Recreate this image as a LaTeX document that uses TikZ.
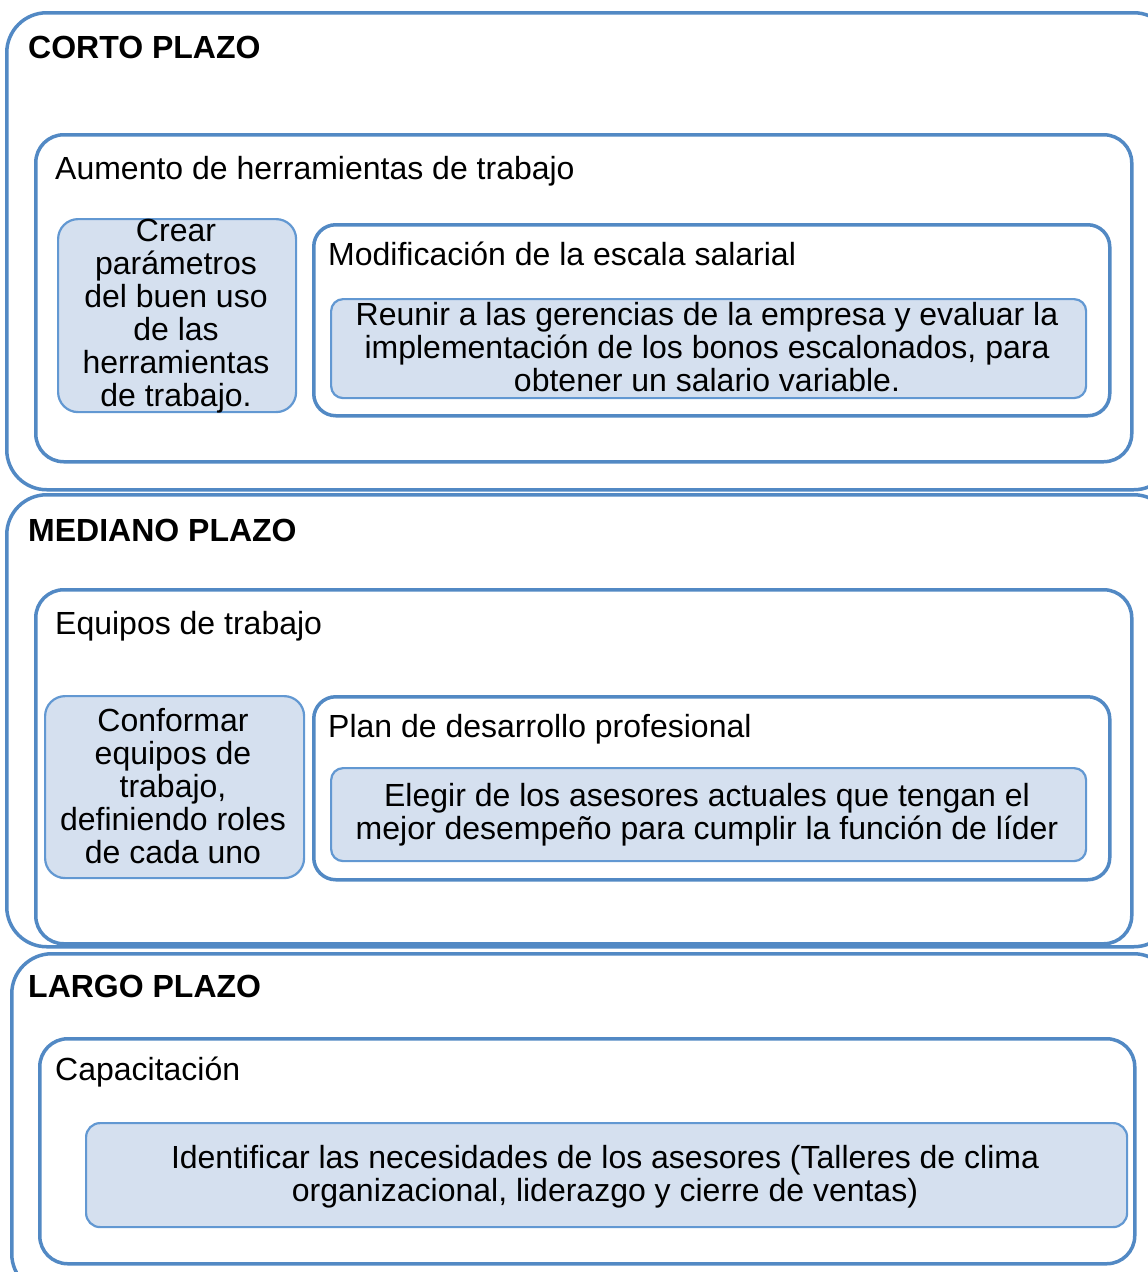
\documentclass[tikz,border=0pt]{standalone}
\usepackage{fontspec}
\setmainfont{Liberation Sans}
\definecolor{edgec}{HTML}{5289C4}
\definecolor{fillc}{HTML}{D5E0EF}
\definecolor{filledge}{HTML}{6298D2}
\tikzset{
  outerbox/.style={draw=edgec, line width=3.5pt, rounded corners=40pt, anchor=north west, inner sep=0pt},
  innerbox/.style={draw=edgec, line width=3.5pt, rounded corners=28pt, fill=white, anchor=north west, inner sep=0pt},
  filledbox/.style={draw=filledge, line width=2.2pt, rounded corners=16pt, fill=fillc, anchor=north west, inner sep=0pt},
  lbl/.style={anchor=base west, inner sep=0pt, font=\fontsize{32}{33}\selectfont},
  ttl/.style={anchor=base west, inner sep=0pt, font=\fontsize{32}{33}\selectfont\bfseries},
  ctext/.style={align=center, inner sep=0pt, font=\fontsize{32}{33}\selectfont}
}
\begin{document}
\begin{tikzpicture}[x=1pt,y=-1pt]
\useasboundingbox (0,0) rectangle (1148,1272);
\clip (0,0) rectangle (1148,1272);
% outer containers
\node[outerbox, minimum width=1167pt, minimum height=477pt] (corto) at (5,11) {};
\node[outerbox, minimum width=1167pt, minimum height=452pt] (mediano) at (5,493) {};
\node[outerbox, minimum width=1162pt, minimum height=340pt] (largo) at (10,952) {};
% inner containers
\node[innerbox, minimum width=1096pt, minimum height=327pt] (aumento) at (34,133) {};
\node[innerbox, minimum width=1096pt, minimum height=354pt] (equipos) at (34,588) {};
\node[innerbox, minimum width=1095pt, minimum height=225pt] (capac) at (38,1037) {};
\node[innerbox, rounded corners=22pt, minimum width=796pt, minimum height=191pt] (modif) at (312,223) {};
\node[innerbox, rounded corners=22pt, minimum width=796pt, minimum height=183pt] (plan) at (312,695) {};
% filled boxes
\node[filledbox, rounded corners=20pt, minimum width=238pt, minimum height=193pt] (crear) at (57,218) {};
\node[filledbox, rounded corners=12pt, minimum width=755pt, minimum height=99pt] (reunir) at (330,298) {};
\node[filledbox, rounded corners=20pt, minimum width=259pt, minimum height=182pt] (conformar) at (44,695) {};
\node[filledbox, rounded corners=12pt, minimum width=755pt, minimum height=93pt] (elegir) at (330,767) {};
\node[filledbox, rounded corners=14pt, minimum width=1041pt, minimum height=104pt] (ident) at (85,1122) {};
% titles and labels
\node[ttl] (tcorto) at (28,58.5) {CORTO PLAZO};
\node[ttl] (tmediano) at (28,541) {MEDIANO PLAZO};
\node[ttl] (tlargo) at (28,997) {LARGO PLAZO};
\node[lbl] (taumento) at (55,179.5) {Aumento de herramientas de trabajo};
\node[lbl] (tmodif) at (328,265) {Modificación de la escala salarial};
\node[lbl] (tequipos) at (55,634) {Equipos de trabajo};
\node[lbl] (tplan) at (328,737) {Plan de desarrollo profesional};
\node[lbl] (tcapac) at (55,1080) {Capacitación};
% centred texts
\node[ctext] (tcrear) at (176,316) {Crear\\parámetros\\del buen uso\\de las\\herramientas\\de trabajo.};
\node[ctext] (treunir) at (707,347) {Reunir a las gerencias de la empresa y evaluar la\\implementación de los bonos escalonados, para\\obtener un salario variable.};
\node[ctext] (tconformar) at (173,786) {Conformar\\equipos de\\trabajo,\\definiendo roles\\de cada uno};
\node[ctext] (telegir) at (707,815) {Elegir de los asesores actuales que tengan el\\mejor desempeño para cumplir la función de líder};
\node[ctext] (tident) at (605,1177) {Identificar las necesidades de los asesores (Talleres de clima\\organizacional, liderazgo y cierre de ventas)};
\end{tikzpicture}
\end{document}
